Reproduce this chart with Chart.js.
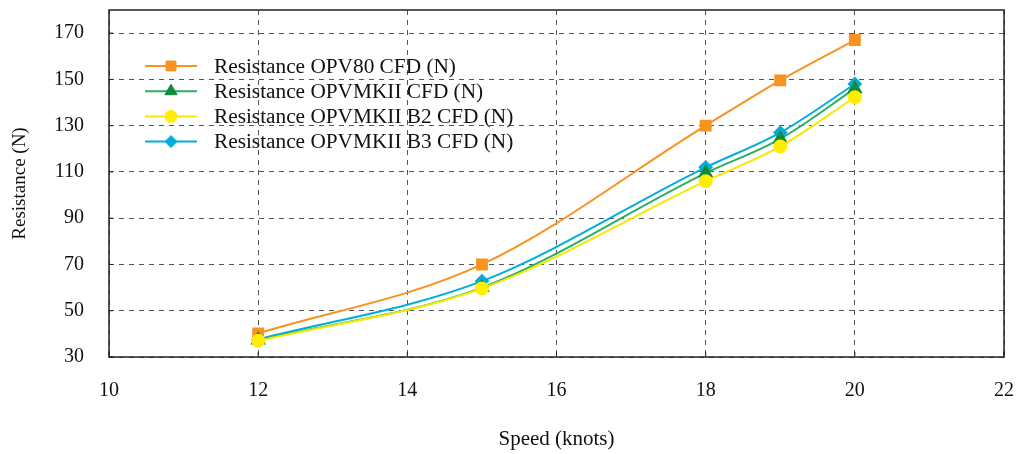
<!DOCTYPE html>
<html>
<head>
<meta charset="utf-8">
<script src="https://cdn.jsdelivr.net/npm/chart.js@4/dist/chart.umd.min.js"></script>
<style>
  html, body { margin: 0; padding: 0; background: #fff; }
  #wrap { width: 1018px; height: 454px; }
</style>
</head>
<body>
<div id="wrap"><canvas id="grafico"></canvas></div>
<script>
// Dados
const velocidades = [12, 15, 18, 19, 20];
const resOPV80 = [40.2, 70, 130, 149.6, 167];
const resOPVMKII = [37.3, 60, 109.5, 124.3, 146];
const resOPVMKIIB2 = [37, 59.6, 106, 121, 142.3];
const resOPVMKIIB3 = [37.6, 62.8, 112, 127, 148];

const ticksX = [10, 12, 14, 16, 18, 20, 22];
const ticksY = [30, 50, 70, 90, 110, 130, 150, 170];

const rotulos = [
    'Resistance OPV80 CFD (N)',
    'Resistance OPVMKII CFD (N)',
    'Resistance OPVMKII B2 CFD (N)',
    'Resistance OPVMKII B3 CFD (N)'
];

const fonte = "'Liberation Serif', 'Times New Roman', serif";

const pontos = (valores) => velocidades.map((v, i) => ({ x: v, y: valores[i] }));

const serie = (label, valores, linha, marcador, estilo, raio, ordem) => ({
    label,
    data: pontos(valores),
    borderColor: linha,
    backgroundColor: marcador,
    pointBackgroundColor: marcador,
    pointBorderColor: marcador,
    pointStyle: estilo,
    pointRadius: raio,
    pointHoverRadius: raio,
    borderWidth: 2,
    cubicInterpolationMode: 'monotone',
    order: ordem
});

// Moldura e marcas internas dos eixos
const moldura = {
    id: 'moldura',
    beforeDatasetsDraw(chart) {
        const { ctx, chartArea: a, scales } = chart;
        ctx.save();
        ctx.strokeStyle = '#222';
        ctx.lineWidth = 1;
        ctx.setLineDash([]);
        ctx.beginPath();
        scales.x.ticks.forEach(t => {
            const px = scales.x.getPixelForValue(t.value);
            ctx.moveTo(px, a.bottom);
            ctx.lineTo(px, a.bottom - 5);
        });
        scales.y.ticks.forEach(t => {
            const py = scales.y.getPixelForValue(t.value);
            ctx.moveTo(a.left, py);
            ctx.lineTo(a.left + 4, py);
        });
        ctx.stroke();
        ctx.lineWidth = 1.5;
        ctx.strokeRect(a.left, a.top, a.right - a.left, a.bottom - a.top);
        ctx.restore();
    }
};

// Legenda dentro da área do gráfico
const legendaInterna = {
    id: 'legendaInterna',
    afterDraw(chart) {
        const { ctx } = chart;
        const desenharPonto = Chart.helpers && Chart.helpers.drawPoint;
        ctx.save();
        chart.data.datasets.forEach((ds, i) => {
            const y = 66 + i * 25.2;
            ctx.strokeStyle = ds.borderColor;
            ctx.lineWidth = 2;
            ctx.setLineDash([]);
            ctx.beginPath();
            ctx.moveTo(145, y);
            ctx.lineTo(197, y);
            ctx.stroke();
            if (desenharPonto) {
                ctx.fillStyle = ds.pointBackgroundColor;
                ctx.strokeStyle = ds.pointBorderColor;
                ctx.lineWidth = 1;
                desenharPonto(ctx, { pointStyle: ds.pointStyle, radius: ds.pointRadius, rotation: 0, borderWidth: 1 }, 171, y);
            }
            ctx.fillStyle = '#111';
            ctx.font = '21.3px ' + fonte;
            ctx.textBaseline = 'middle';
            ctx.textAlign = 'left';
            ctx.fillText(ds.label, 214, y + 1);
        });
        ctx.restore();
    }
};

new Chart(document.getElementById('grafico'), {
    type: 'line',
    data: {
        datasets: [
            serie(rotulos[0], resOPV80, '#F7931E', '#F7931E', 'rect', 7, 4),
            serie(rotulos[1], resOPVMKII, '#2DAE68', '#128A3A', 'triangle', 7, 2),
            serie(rotulos[2], resOPVMKIIB2, '#F8E800', '#FFEE00', 'circle', 6, 1),
            serie(rotulos[3], resOPVMKIIB3, '#00AEDB', '#00AEDB', 'rectRot', 6, 3)
        ]
    },
    options: {
        responsive: true,
        maintainAspectRatio: false,
        animation: false,
        layout: { padding: { top: 10, right: 14, left: 0, bottom: 0 } },
        plugins: {
            legend: { display: false },
            tooltip: { enabled: false }
        },
        scales: {
            x: {
                type: 'linear',
                min: 10,
                max: 22,
                afterBuildTicks: (s) => { s.ticks = ticksX.map(v => ({ value: v })); },
                ticks: { color: '#111', font: { family: fonte, size: 20 }, padding: 22, maxRotation: 0 },
                grid: { color: '#555', lineWidth: 1, drawTicks: false },
                border: { display: false, dash: [5, 5] },
                title: { display: true, text: 'Speed (knots)', color: '#111', font: { family: fonte, size: 21 }, padding: { top: 0, bottom: 2 } },
                afterFit: (s) => { s.height = 97; s.paddingLeft = 0; s.paddingRight = 0; }
            },
            y: {
                min: 30,
                max: 180,
                afterBuildTicks: (s) => { s.ticks = ticksY.map(v => ({ value: v })); },
                ticks: { color: '#111', font: { family: fonte, size: 20 }, padding: 25 },
                grid: { color: '#555', lineWidth: 1, drawTicks: false },
                border: { display: false, dash: [5, 5] },
                title: { display: true, text: 'Resistance (N)', color: '#111', font: { family: fonte, size: 19 }, padding: { top: 9, bottom: 0 } },
                afterFit: (s) => { s.width = 109; s.paddingTop = 0; s.paddingBottom = 0; }
            }
        }
    },
    plugins: [moldura, legendaInterna]
});
</script>
</body>
</html>
